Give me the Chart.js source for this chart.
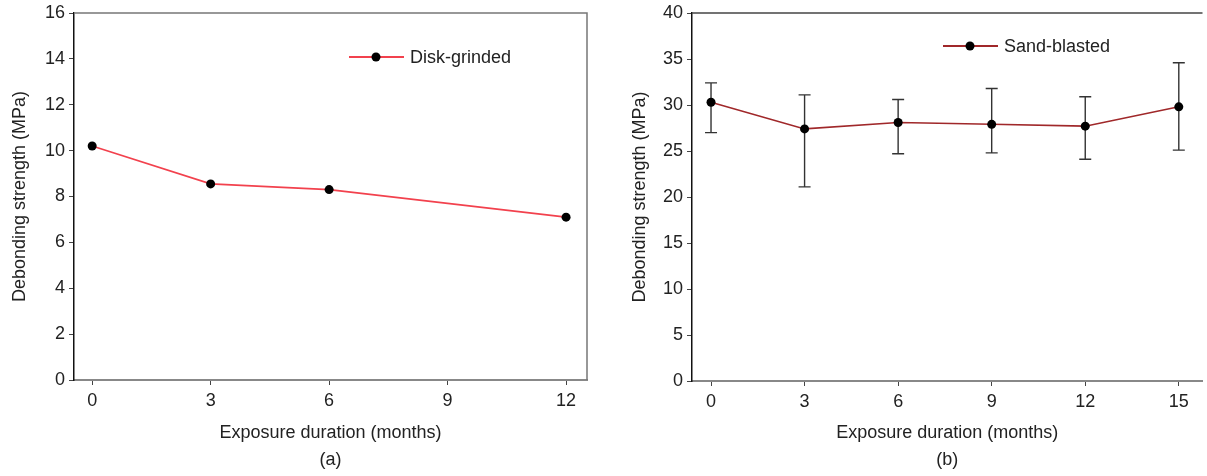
<!DOCTYPE html>
<html>
<head>
<meta charset="utf-8">
<script src="https://cdn.jsdelivr.net/npm/chart.js@4.4.1/dist/chart.umd.min.js"></script>
<style>
html, body { margin: 0; padding: 0; background: #fff; }
#wrap { position: relative; width: 1207px; height: 476px; }
.box { position: absolute; top: 0; height: 476px; }
#boxA { left: 0; width: 603px; }
#boxB { left: 603px; width: 604px; }
</style>
</head>
<body>
<div id="wrap">
  <div class="box" id="boxA"><canvas id="chartA"></canvas></div>
  <div class="box" id="boxB"><canvas id="chartB"></canvas></div>
</div>
<script>
// ---- data (a) disk-grinded ----
var monthsA = [0, 3, 6, 12];
var strengthA = [10.2, 8.55, 8.3, 7.1];
var xTicksA = [0, 3, 6, 9, 12];
var yTicksA = [0, 2, 4, 6, 8, 10, 12, 14, 16];

// ---- data (b) sand-blasted ----
var monthsB = [0, 3, 6, 9, 12, 15];
var strengthB = [30.3, 27.4, 28.1, 27.9, 27.7, 29.8];
var upperB = [32.4, 31.1, 30.6, 31.8, 30.9, 34.6];
var lowerB = [27.0, 21.1, 24.7, 24.8, 24.1, 25.1];
var xTicksB = [0, 3, 6, 9, 12, 15];
var yTicksB = [0, 5, 10, 15, 20, 25, 30, 35, 40];

var FONT = '"Liberation Sans", Arial, sans-serif';
var FS = 18;
var TXT = '#222';

function pts(xs, ys) { return xs.map(function(x, i) { return { x: x, y: ys[i] }; }); }
function fixTicks(list) { return function(axis) { axis.ticks = list.map(function(v) { return { value: v }; }); }; }

// frame lines (top / right) that the axes do not draw
var framePlugin = {
    id: 'frame',
    afterDraw: function(chart, args, o) {
        var a = chart.chartArea, ctx = chart.ctx;
        ctx.save();
        ctx.lineWidth = o.width || 1.5;
        ctx.strokeStyle = o.color || '#777';
        ctx.beginPath();
        ctx.moveTo(a.left, a.top); ctx.lineTo(a.right, a.top);
        if (o.right) { ctx.lineTo(a.right, a.bottom); }
        ctx.stroke();
        ctx.restore();
    }
};

// error bars read from the dataset's upper / lower arrays
var errPlugin = {
    id: 'errbars',
    beforeDatasetsDraw: function(chart) {
        var ds = chart.data.datasets[0];
        if (!ds.upper) return;
        var xs = chart.scales.x, ys = chart.scales.y, ctx = chart.ctx;
        ctx.save();
        ctx.strokeStyle = '#333';
        ctx.lineWidth = 1.4;
        ds.data.forEach(function(p, i) {
            var px = xs.getPixelForValue(p.x);
            var t = ys.getPixelForValue(ds.upper[i]);
            var b = ys.getPixelForValue(ds.lower[i]);
            ctx.beginPath();
            ctx.moveTo(px, t); ctx.lineTo(px, b);
            ctx.moveTo(px - 6, t); ctx.lineTo(px + 6, t);
            ctx.moveTo(px - 6, b); ctx.lineTo(px + 6, b);
            ctx.stroke();
        });
        ctx.restore();
    }
};

// legend drawn inside the plot
var legendPlugin = {
    id: 'inlegend',
    afterDraw: function(chart, args, o) {
        var ds = chart.data.datasets[0], ctx = chart.ctx;
        ctx.save();
        ctx.strokeStyle = ds.borderColor;
        ctx.lineWidth = 2;
        ctx.beginPath();
        ctx.moveTo(o.x - 27, o.y); ctx.lineTo(o.x + 28, o.y);
        ctx.stroke();
        ctx.fillStyle = '#000';
        ctx.beginPath(); ctx.arc(o.x, o.y, 4.5, 0, Math.PI * 2); ctx.fill();
        ctx.fillStyle = TXT;
        ctx.font = FS + 'px ' + FONT;
        ctx.textBaseline = 'middle';
        ctx.fillText(ds.label, o.x + 34, o.y + 1);
        ctx.restore();
    }
};

function makeChart(id, cfg) {
    return new Chart(document.getElementById(id), {
        type: 'line',
        data: { datasets: [{
            label: cfg.label,
            data: pts(cfg.xs, cfg.ys),
            upper: cfg.upper, lower: cfg.lower,
            borderColor: cfg.color, borderWidth: 1.6,
            pointRadius: 4.5, pointBackgroundColor: '#000', pointBorderWidth: 0,
            tension: 0, fill: false
        }] },
        options: {
            responsive: true, maintainAspectRatio: false, animation: false,
            layout: { padding: { left: cfg.padLeft, right: cfg.padRight, top: cfg.padTop, bottom: 0 } },
            plugins: {
                legend: { display: false }, tooltip: { enabled: false },
                frame: { color: cfg.frameColor, right: cfg.frameRight, width: 1.5 },
                inlegend: { x: cfg.legX, y: cfg.legY }
            },
            scales: {
                x: {
                    type: 'linear', min: cfg.xMin, max: cfg.xMax,
                    afterBuildTicks: fixTicks(cfg.xTicks),
                    afterFit: function(s) { s.height = cfg.xH; },
                    border: { color: '#888', width: 2 },
                    grid: { drawOnChartArea: false, drawTicks: true, tickLength: 5, color: '#444' },
                    ticks: { color: TXT, font: { family: FONT, size: FS }, padding: 5, maxRotation: 0 },
                    title: { display: true, text: ['Exposure duration (months)', cfg.caption], color: TXT,
                             font: { family: FONT, size: FS, lineHeight: 1.5 }, padding: { top: 4, bottom: 2.5 } }
                },
                y: {
                    min: cfg.yTicks[0], max: cfg.yTicks[cfg.yTicks.length - 1],
                    afterBuildTicks: fixTicks(cfg.yTicks),
                    afterFit: function(s) { s.width = cfg.yW; },
                    border: { color: '#111', width: 1.5 },
                    grid: { drawOnChartArea: false, drawTicks: true, tickLength: 5, color: '#444' },
                    ticks: { color: TXT, font: { family: FONT, size: FS, lineHeight: 1 }, padding: 4 },
                    title: { display: true, text: 'Debonding strength (MPa)', color: TXT,
                             font: { family: FONT, size: FS }, padding: { top: 4, bottom: 4 } }
                }
            }
        },
        plugins: [framePlugin, errPlugin, legendPlugin]
    });
}

makeChart('chartA', {
    label: 'Disk-grinded', xs: monthsA, ys: strengthA, color: '#f2414d',
    xTicks: xTicksA, yTicks: yTicksA, xMin: -0.46, xMax: 12.53, caption: '(a)',
    padLeft: 5, padRight: 16, padTop: 13, yW: 69, xH: 96,
    frameColor: '#777', frameRight: true, legX: 376, legY: 57
});

makeChart('chartB', {
    label: 'Sand-blasted', xs: monthsB, ys: strengthB, upper: upperB, lower: lowerB, color: '#a0282a',
    xTicks: xTicksB, yTicks: yTicksB, xMin: -0.61, xMax: 15.76, caption: '(b)',
    padLeft: 22, padRight: 0, padTop: 12, yW: 67, xH: 95,
    frameColor: '#444', frameRight: false, legX: 367, legY: 46
});
</script>
</body>
</html>
